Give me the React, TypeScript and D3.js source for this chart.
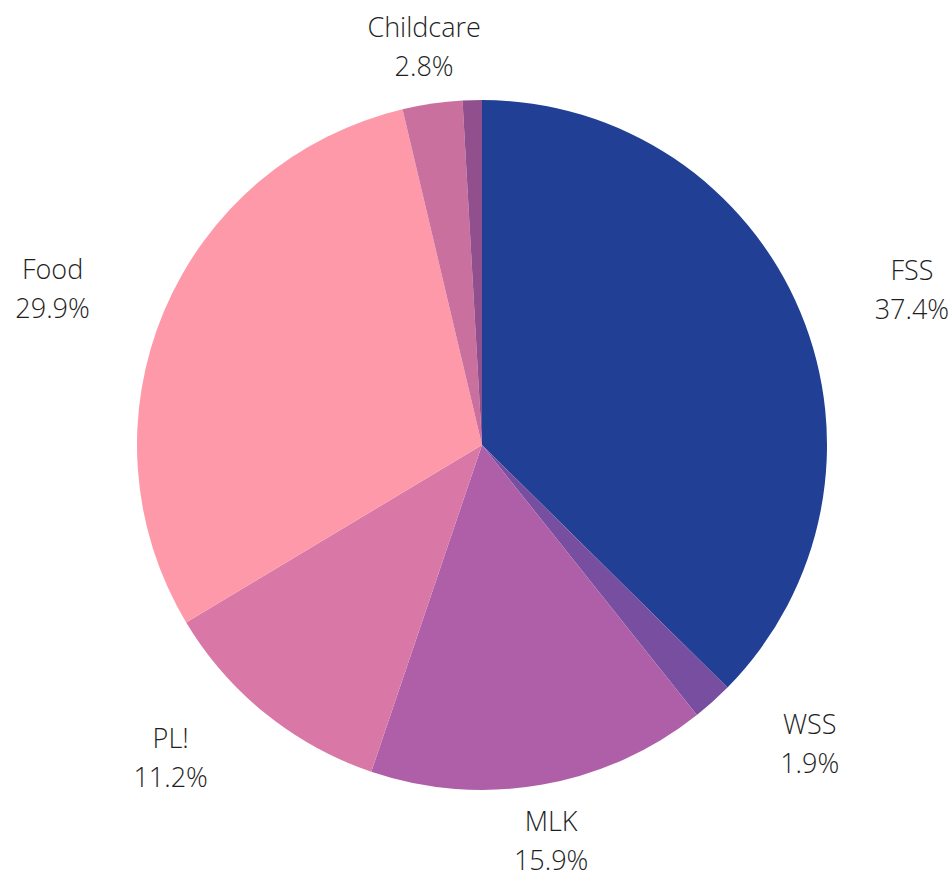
import React, { useEffect, useRef } from 'react';
import * as d3 from 'd3';

// slice order, clockwise from 12 o'clock
const labels = ['FSS', 'WSS', 'MLK', 'PL!', 'Food', 'Childcare', ''];
const shares = [37.4, 1.9, 15.9, 11.2, 29.9, 2.8, 0.9];
const colors = ['#213f94', '#774ea0', '#ae5fa8', '#d978a6', '#fe99aa', '#c9709f', '#924f8e'];

const App: React.FC = () => {
  const svgRef = useRef<SVGSVGElement>(null);

  useEffect(() => {
    if (!svgRef.current) return;

    const width = 952;
    const height = 876;
    const cx = 482;
    const cy = 445;
    const radius = 345;
    const labelRadius = 402;

    d3.select(svgRef.current).selectAll('*').remove();

    const svg = d3.select(svgRef.current)
      .attr('width', width)
      .attr('height', height)
      .attr('viewBox', `0 0 ${width} ${height}`);

    const g = svg.append('g').attr('transform', `translate(${cx},${cy})`);

    const data = labels.map((label, i) => ({ label, value: shares[i], color: colors[i] }));

    const pie = d3.pie<any>()
      .value((d: any) => d.value)
      .sort(null)
      .startAngle(0)
      .endAngle(2 * Math.PI);

    const arcs = pie(data);

    const arc = d3.arc<any>().innerRadius(0).outerRadius(radius);

    g.selectAll('path.slice')
      .data(arcs)
      .enter()
      .append('path')
      .attr('class', 'slice')
      .attr('d', arc as any)
      .attr('fill', (d: any) => d.data.color);

    // labels on a ring outside the pie; side labels get pushed sideways
    const labelG = g.selectAll('g.lbl')
      .data(arcs.filter((d: any) => d.data.label !== ''))
      .enter()
      .append('g')
      .attr('class', 'lbl')
      .attr('transform', (d: any) => {
        const a = (d.startAngle + d.endAngle) / 2;
        const s = Math.sin(a);
        const c = Math.cos(a);
        const push = Math.abs(s) > 0.4 ? 59 * Math.sign(s) : 0;
        return `translate(${labelRadius * s + push},${-labelRadius * c})`;
      });

    const text = labelG.append('text')
      .attr('text-anchor', 'middle')
      .attr('font-family', '"Open Sans", sans-serif')
      .attr('font-weight', 300)
      .attr('font-size', '27px')
      .attr('fill', '#1f1f1f');

    text.append('tspan')
      .attr('x', 0)
      .attr('y', -10)
      .text((d: any) => d.data.label);

    text.append('tspan')
      .attr('x', 0)
      .attr('y', 29)
      .text((d: any) => `${d.data.value.toFixed(1)}%`);
  }, []);

  return (
    <svg
      ref={svgRef}
      style={{ position: 'absolute', left: 0, top: 0, display: 'block', background: '#fff' }}
    ></svg>
  );
};

export default App;
